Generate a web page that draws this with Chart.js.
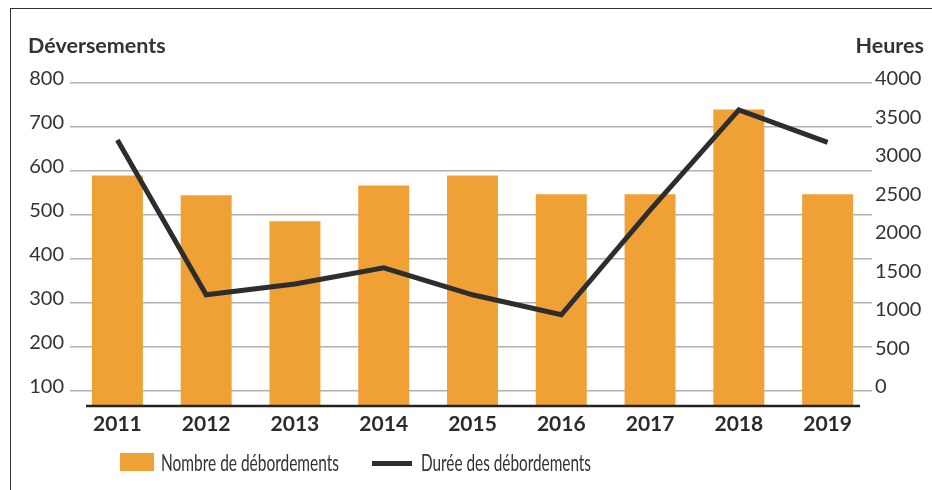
<!DOCTYPE html>
<html lang="fr">
  <head>
    <meta charset="UTF-8" />
    <title>Déversements et durée des débordements</title>
    <style>
      * {
        margin: 0;
        padding: 0;
        box-sizing: border-box;
      }
      body {
        width: 932px;
        height: 490px;
        background: #fff;
        position: relative;
        overflow: hidden;
        font-family: Lato, sans-serif;
        color: #333;
      }
      .frame {
        position: absolute;
        left: 10px;
        top: 8px;
        width: 960px;
        height: 520px;
        border: 1.5px solid #333;
      }
      .chartBox {
        position: absolute;
        left: 0;
        top: 0;
        width: 932px;
        height: 490px;
      }
      .axisTitle {
        position: absolute;
        top: 32px;
        font-size: 21.5px;
        font-weight: bold;
        line-height: 26px;
      }
      .legendItem {
        position: absolute;
      }
      .legendText {
        position: absolute;
        top: 448px;
        font-size: 23px;
        line-height: 28px;
        white-space: nowrap;
        transform-origin: left center;
      }
    </style>
  </head>
  <body>
    <div class="frame"></div>
    <div class="chartBox">
      <canvas id="myChart" width="932" height="490"></canvas>
    </div>
    <div class="axisTitle" id="leftTitle" style="left: 28px"></div>
    <div class="axisTitle" id="rightTitle" style="right: 8px"></div>
    <div class="legendItem" id="barSwatch" style="left: 120px; top: 453px; width: 34px; height: 18px"></div>
    <div class="legendText" id="barText" style="left: 161px"></div>
    <div class="legendItem" id="lineSwatch" style="left: 372px; top: 461px; width: 40px; height: 5px"></div>
    <div class="legendText" id="lineText" style="left: 421px"></div>

    <script src="https://cdn.jsdelivr.net/npm/chart.js"></script>
    <script>
      const years = ["2011", "2012", "2013", "2014", "2015", "2016", "2017", "2018", "2019"];
      const overflowCount = [590, 545, 486, 567, 590, 547, 547, 740, 547];
      const overflowHours = [3260, 1250, 1390, 1600, 1250, 990, 2350, 3650, 3230];
      const leftTicks = [100, 200, 300, 400, 500, 600, 700, 800];
      const rightTicks = [0, 500, 1000, 1500, 2000, 2500, 3000, 3500, 4000];

      const leftTitle = "Déversements";
      const rightTitle = "Heures";
      const barLabel = "Nombre de débordements";
      const lineLabel = "Durée des débordements";

      const orange = "#f0a135";
      const dark = "#2d2d2d";

      // left axis goes a bit below 100, right axis 0 sits on the 100 line
      const yMin = 66;
      const y1Min = ((yMin - 100) * 4000) / 700;

      document.getElementById("leftTitle").textContent = leftTitle;
      document.getElementById("rightTitle").textContent = rightTitle;
      document.getElementById("barSwatch").style.background = orange;
      document.getElementById("lineSwatch").style.background = dark;

      // the original legend font is condensed, squeeze to the measured widths
      function fitText(id, text, width) {
        const el = document.getElementById(id);
        el.textContent = text;
        const w = el.getBoundingClientRect().width;
        el.style.transform = `scaleX(${width / w})`;
      }
      fitText("barText", barLabel, 178);
      fitText("lineText", lineLabel, 170);

      const baseLine = {
        id: "baseLine",
        afterDatasetsDraw(chart) {
          const { ctx, chartArea: { left, right, bottom } } = chart;
          ctx.save();
          ctx.strokeStyle = "#222";
          ctx.lineWidth = 2.5;
          ctx.beginPath();
          ctx.moveTo(left + 13, bottom);
          ctx.lineTo(right - 12, bottom);
          ctx.stroke();
          ctx.restore();
        },
      };

      const tickFont = { family: "Lato, sans-serif", size: 20 };

      const ctx = document.getElementById("myChart");
      const myChart = new Chart(ctx, {
        type: "bar",
        data: {
          labels: years,
          datasets: [
            {
              type: "line",
              label: lineLabel,
              data: overflowHours,
              yAxisID: "y1",
              borderColor: dark,
              borderWidth: 5,
              pointRadius: 0,
              tension: 0,
              order: 1,
            },
            {
              label: barLabel,
              data: overflowCount,
              yAxisID: "y",
              backgroundColor: orange,
              barPercentage: 0.574,
              categoryPercentage: 1,
              order: 2,
            },
          ],
        },
        options: {
          responsive: false,
          animation: false,
          layout: { padding: { top: 83, bottom: 0, left: 0, right: 0 } },
          plugins: { legend: { display: false }, tooltip: { enabled: false } },
          scales: {
            x: {
              grid: { display: false, drawTicks: false },
              border: { display: false },
              ticks: {
                color: "#2b2b2b",
                padding: 6,
                font: { family: "Lato, sans-serif", size: 21, weight: "bold" },
              },
              afterFit(scale) {
                scale.height = 84;
              },
            },
            y: {
              position: "left",
              min: yMin,
              max: 800,
              afterBuildTicks(scale) {
                scale.ticks = leftTicks.map((v) => ({ value: v }));
              },
              grid: { color: "#b0b0b6", lineWidth: 1.5, tickLength: 3 },
              border: { display: false },
              ticks: { color: "#333", padding: 6, labelOffset: -4, font: tickFont },
              afterFit(scale) {
                scale.width = 73;
              },
            },
            y1: {
              position: "right",
              min: y1Min,
              max: 4000,
              afterBuildTicks(scale) {
                scale.ticks = rightTicks.map((v) => ({ value: v }));
              },
              grid: { display: false, drawTicks: false },
              border: { display: false },
              ticks: {
                color: "#333",
                padding: 3,
                labelOffset: -4,
                font: tickFont,
                callback: (v) => String(v),
              },
              afterFit(scale) {
                scale.width = 60;
              },
            },
          },
        },
        plugins: [baseLine],
      });
    </script>
  </body>
</html>
